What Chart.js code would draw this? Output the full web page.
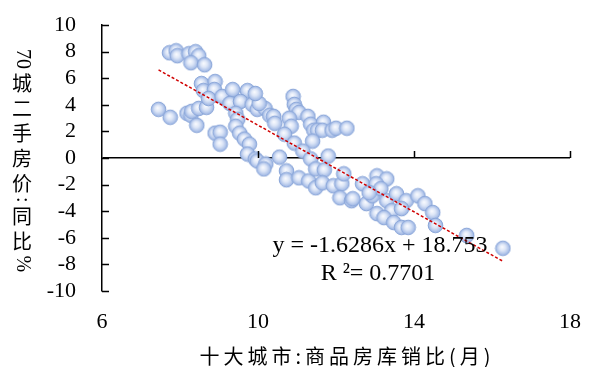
<!DOCTYPE html>
<html>
<head>
<meta charset="utf-8">
<script src="https://cdn.jsdelivr.net/npm/chart.js@4"></script>
<style>
  html, body { margin: 0; padding: 0; background: #fff; }
  canvas { display: block; }
</style>
</head>
<body>
<canvas id="chart" width="599" height="367"></canvas>
<script>
// 十大城市商品房库销比 (x) vs 70城二手房价同比 (y)
const stockRatio = [
  7.73, 7.90, 7.93, 8.23, 8.40, 8.48, 8.28, 8.63,
  7.45, 7.75, 8.18, 8.28, 8.30, 8.43, 8.48, 8.68, 8.55, 8.90, 8.60, 8.88, 8.73, 9.08, 9.35, 9.73,
  9.28, 9.55, 9.85, 9.98, 10.18, 10.30, 9.43, 9.48, 9.43, 9.53, 9.65, 9.78, 9.73, 9.93,
  8.90, 9.03, 9.03, 9.98, 10.20, 10.15, 10.55,
  10.90, 10.93, 10.98, 11.05, 10.03, 10.40, 10.43, 10.80, 10.85, 11.28,
  11.35, 11.68, 11.43, 11.53, 11.65, 11.90, 12.00, 12.28,
  10.68, 10.93, 11.40, 11.15, 11.35, 11.80,
  10.73, 10.73, 11.05, 11.30, 11.48, 11.70, 11.48, 11.65, 11.93, 12.15,
  12.20, 12.10, 12.40, 12.78, 12.68, 12.93, 13.05, 13.30, 13.03, 13.15,
  12.85, 13.30, 13.55, 13.80, 14.10, 14.28, 14.48, 14.55, 13.43, 13.05,
  13.23, 13.68, 13.48, 13.68, 13.85, 15.35, 16.28, 12.43, 9.93
]
const priceYoY = [
  7.91, 8.06, 7.69, 7.84, 7.99, 7.69, 7.16, 7.01,
  3.66, 3.06, 3.36, 3.21, 3.51, 2.46, 3.73, 3.81, 5.60, 5.75, 5.07, 5.15, 4.48, 4.63, 5.15, 5.07,
  4.10, 4.25, 4.03, 3.66, 3.73, 3.21, 3.36, 2.91, 2.39, 1.87, 1.42, 1.04, 0.30, -0.07,
  1.87, 1.94, 1.04, -0.22, -0.45, -0.82, 0.07,
  4.63, 4.03, 3.66, 3.43, 4.10, 3.13, 2.61, 2.99, 2.39, 3.13,
  2.54, 2.69, 2.09, 2.09, 2.09, 2.09, 2.24, 2.24,
  1.79, 1.12, 1.27, 0.52, -0.07, 0.15,
  -0.97, -1.64, -1.49, -1.72, -0.82, -0.90, -2.24, -1.87, -2.09, -1.94,
  -1.19, -2.99, -3.21, -3.43, -1.94, -2.84, -1.34, -1.57, -1.94, -2.31,
  -2.61, -3.21, -2.69, -3.21, -2.84, -3.43, -4.10, -5.07, -3.96, -4.18,
  -4.48, -3.81, -4.85, -5.22, -5.22, -5.82, -6.79, -3.06, 4.85
]

// linear trend as printed on the chart
const trendSlope = -1.6286
const trendIntercept = 18.753
const trendRange = [7.45, 16.28]
const equationText = 'y = -1.6286x + 18.753'
const r2Text = 'R ²= 0.7701'

const xTicks = [6, 10, 14, 18]
const yTitle = ['70', '城', '二', '手', '房', '价', ':', '同', '比', '%']
const xTitle = '十大城市:商品房库销比(月)'

const serif = '"Liberation Serif", "DejaVu Serif", serif'
const cjk = '"Noto Sans CJK SC", sans-serif'

// glossy ball used as point style
function makeBall(r) {
  const c = document.createElement('canvas')
  const s = Math.ceil(r * 2 + 2)
  c.width = s; c.height = s
  const g = c.getContext('2d')
  const grad = g.createRadialGradient(s / 2 - 1, s / 2 - 1.5, 0, s / 2, s / 2, r)
  grad.addColorStop(0, '#fbfcff')
  grad.addColorStop(0.45, '#dde6f7')
  grad.addColorStop(0.85, '#adc2e9')
  grad.addColorStop(1, '#94aedf')
  g.beginPath()
  g.arc(s / 2, s / 2, r, 0, Math.PI * 2)
  g.fillStyle = grad
  g.fill()
  g.lineWidth = 1
  g.strokeStyle = '#89a5d8'
  g.stroke()
  return c
}

const points = stockRatio.map((x, i) => ({ x, y: priceYoY[i] }))
const trend = trendRange.map(x => ({ x, y: trendSlope * x + trendIntercept }))

// axis tick marks pointing inward, crossing axis at y=0, and texts
const decorations = {
  id: 'decorations',
  afterDraw(chart) {
    const { ctx, scales: { x, y }, chartArea } = chart
    const y0 = y.getPixelForValue(0)
    ctx.save()
    ctx.strokeStyle = '#000'
    ctx.lineWidth = 1.5
    ctx.beginPath()
    y.ticks.forEach(t => {
      const py = Math.round(y.getPixelForValue(t.value)) + 0.5
      ctx.moveTo(chartArea.left, py)
      ctx.lineTo(chartArea.left + 7, py)
    })
    xTicks.slice(1).forEach(v => {
      const px = Math.round(x.getPixelForValue(v)) + 0.5
      ctx.moveTo(px, y0)
      ctx.lineTo(px, y0 - 7)
    })
    ctx.stroke()

    // trend equation
    ctx.fillStyle = '#000'
    ctx.font = '24px ' + serif
    ctx.textAlign = 'center'
    ctx.textBaseline = 'middle'
    const ex = x.getPixelForValue(13) + 5
    ctx.fillText(equationText, ex, y.getPixelForValue(-6.6))
    ctx.fillText(r2Text, ex - 2, y.getPixelForValue(-8.7))

    // vertical y title: digits / punctuation turned, CJK upright
    let cy = 49
    const cx = 22
    yTitle.forEach(s => {
      const turned = !/[\u4e00-\u9fff]/.test(s)
      if (turned) {
        ctx.font = '20px ' + serif
        const w = ctx.measureText(s).width
        ctx.save()
        ctx.translate(cx, cy + w / 2)
        ctx.rotate(Math.PI / 2)
        ctx.fillText(s, 0, 0)
        ctx.restore()
        cy += w + 3
      } else {
        ctx.font = '20px ' + cjk
        ctx.fillText(s, cx, cy + 11)
        cy += 25
      }
    })

    // x title
    ctx.font = '20px ' + cjk
    ctx.letterSpacing = '4px'
    ctx.fillText(xTitle, 347, 356)
    ctx.restore()
  }
}

new Chart(document.getElementById('chart'), {
  type: 'scatter',
  data: {
    datasets: [
      {
        type: 'line',
        data: trend,
        borderColor: '#d00000',
        borderWidth: 1.5,
        borderDash: [3, 2],
        pointRadius: 0,
        fill: false,
        order: 0
      },
      {
        data: points,
        pointStyle: makeBall(7.3),
        pointRadius: 7,
        order: 1
      }
    ]
  },
  options: {
    responsive: false,
    animation: false,
    layout: { padding: { top: 25, right: 18, left: 0, bottom: 0 } },
    plugins: { legend: { display: false }, tooltip: { enabled: false } },
    scales: {
      x: {
        type: 'linear',
        min: 6, max: 18,
        afterBuildTicks(scale) { scale.ticks = xTicks.map(v => ({ value: v })) },
        afterFit(scale) { scale.height = 76 },
        grid: { display: false, drawTicks: false },
        border: { display: false },
        ticks: { color: '#000', padding: 18, font: { family: serif, size: 22 }, maxRotation: 0 }
      },
      y: {
        min: -10, max: 10,
        afterFit(scale) {
          scale.width = 102
          scale.paddingTop = 0
          scale.paddingBottom = 0
        },
        grid: {
          drawTicks: false,
          color: ctx => ctx.tick && ctx.tick.value === 0 ? '#000' : 'rgba(0,0,0,0)',
          lineWidth: 1.5
        },
        border: { display: true, color: '#000', width: 1.5 },
        ticks: { stepSize: 2, autoSkip: false, color: '#000', padding: 26, font: { family: serif, size: 22 } }
      }
    }
  },
  plugins: [decorations]
})
</script>
</body>
</html>
